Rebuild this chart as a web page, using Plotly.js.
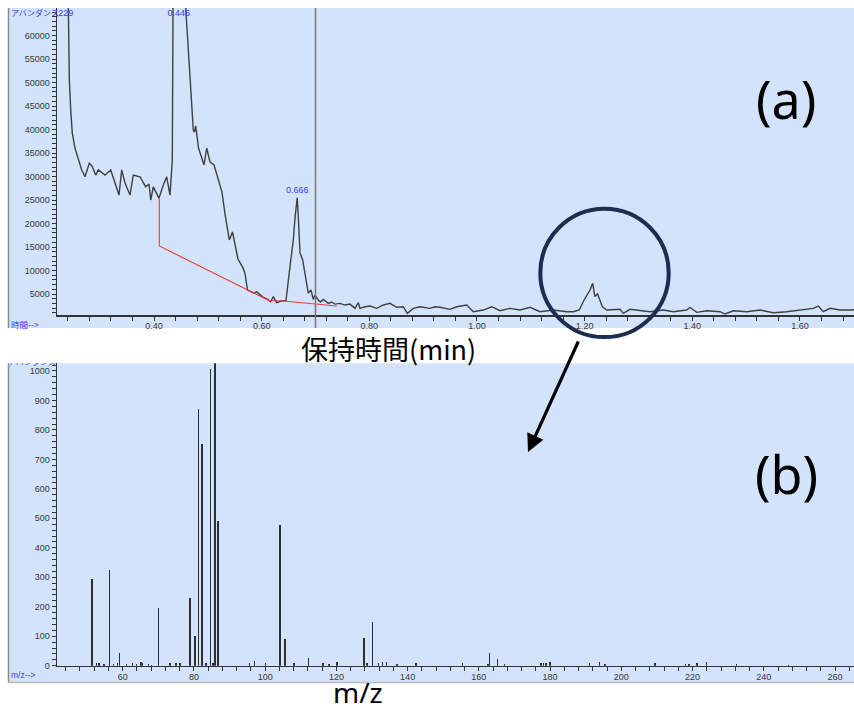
<!DOCTYPE html>
<html>
<head>
<meta charset="utf-8">
<script src="https://cdn.plot.ly/plotly-3.0.1.min.js"></script>
<style>
  html, body { margin: 0; padding: 0; background: #ffffff; }
  #chart { width: 854px; height: 711px; }
</style>
</head>
<body>
<div id="chart"></div>
<script>
// ---- (a) total ion chromatogram: retention time (min) vs abundance ----
const rtMin = [
  0.2198, 0.2290, 0.2380, 0.2402, 0.2408, 0.2427, 0.2453, 0.2482, 0.2532, 0.2594,
  0.2657, 0.2718, 0.2798, 0.2848, 0.2917, 0.2965, 0.3090, 0.3196, 0.3276, 0.3350,
  0.3400, 0.3461, 0.3554, 0.3615, 0.3740, 0.3846, 0.3907, 0.3939, 0.3987, 0.4093,
  0.4173, 0.4236, 0.4297, 0.4340, 0.4355, 0.4460, 0.4590, 0.4594, 0.4619, 0.4656,
  0.4687, 0.4730, 0.4749, 0.4775, 0.4827, 0.4873, 0.4929, 0.4979, 0.5040, 0.5115,
  0.5180, 0.5263, 0.5319, 0.5399, 0.5458, 0.5505, 0.5560, 0.5653, 0.5690, 0.5737,
  0.5783, 0.5858, 0.5908, 0.5969, 0.6025, 0.6094, 0.6168, 0.6216, 0.6279, 0.6359,
  0.6452, 0.6526, 0.6588, 0.6619, 0.6660, 0.6684, 0.6712, 0.6762, 0.6824, 0.6866,
  0.6917, 0.6959, 0.6991, 0.7052, 0.7093, 0.7145, 0.7238, 0.7301, 0.7362, 0.7455,
  0.7548, 0.7641, 0.7734, 0.7795, 0.7827, 0.7920, 0.8013, 0.8137, 0.8260, 0.8384,
  0.8509, 0.8631, 0.8706, 0.8817, 0.8941, 0.9127, 0.9220, 0.9313, 0.9499, 0.9623,
  0.9809, 0.9932, 1.0117, 1.0273, 1.0428, 1.0613, 1.0799, 1.0985, 1.1171, 1.1418,
  1.1667, 1.1789, 1.1900, 1.1990, 1.2100, 1.2150, 1.2190, 1.2240, 1.2330, 1.2410,
  1.2657, 1.2718, 1.2843, 1.2967, 1.3214, 1.3461, 1.3647, 1.3896, 1.3957, 1.4082,
  1.4268, 1.4515, 1.4608, 1.4762, 1.5011, 1.5258, 1.5505, 1.5754, 1.6001, 1.6248,
  1.6341, 1.6434, 1.6558, 1.6744, 1.6930, 1.7050
];
const abundance = [
  118000, 160000, 90000, 70000, 55400, 50500, 44150, 39250, 36050, 33500,
  31400, 29950, 32800, 32250, 30300, 31400, 30300, 31400, 28550, 26050,
  31400, 28600, 26050, 30300, 29950, 27800, 28400, 25000, 27800, 25400,
  28200, 29950, 26050, 33500, 70000, 200000, 70000, 64800, 60500, 53300,
  46300, 39900, 39450, 40750, 36050, 34600, 32450, 36050, 33100, 32450,
  29700, 26700, 22050, 16500, 18200, 15850, 12450, 10550, 9450, 5850,
  5650, 5200, 5450, 4800, 4350, 3950, 3350, 4450, 3150, 3500,
  3600, 10800, 16500, 21150, 25500, 20750, 13750, 12250, 8000, 5200,
  5850, 3850, 4800, 3700, 3300, 3850, 3000, 3300, 2850, 3000,
  2650, 2850, 1950, 3150, 1950, 2290, 2440, 1950, 2660, 3020,
  2170, 2290, 890, 1950, 2290, 1950, 2290, 2170, 1740, 2290,
  2660, 1230, 1590, 2290, 1440, 1950, 1590, 2170, 1230, 1590,
  1230, 1230, 1600, 3720, 5840, 7260, 4500, 5000, 2290, 1590,
  1740, 890, 1740, 1590, 1230, 1590, 1230, 1590, 2170, 1100,
  1440, 1230, 740, 1440, 1230, 1590, 1020, 1230, 1590, 1950,
  2440, 1230, 1950, 1590, 1600, 1700
];
const abundanceTicks = [5000, 10000, 15000, 20000, 25000, 30000, 35000, 40000, 45000, 50000, 55000, 60000];
const timeTicks = [0.40, 0.60, 0.80, 1.00, 1.20, 1.40, 1.60];

// integration baseline (red)
const baseTimes  = [0.4098, 0.4098, 0.6136, 0.6452, 0.7394];
const baseValues = [25430, 15220, 3620, 3450, 2450];

// labelled peak apexes
const peakTimes  = [0.229, 0.446, 0.666];
const peakApex   = [160000, 200000, 25500];

// cursor position (min)
const cursorTime = 0.70;

// ---- (b) mass spectrum: m/z vs abundance ----
const msMz = [
  51.4, 52.7, 53.3, 54.8, 56.3, 57.4, 58.5, 59.1, 61.1, 62.8,
  63.9, 65.1, 65.5, 67.2, 68.1, 70.1, 73.3, 75.0, 76.1, 78.9,
  80.3, 81.3, 82.2, 83.4, 84.6, 85.3, 85.9, 86.7, 95.6, 97.0,
  100.1, 104.2, 105.6, 108.1, 112.1, 116.2, 117.9, 120.2, 127.8, 128.6,
  130.1, 131.8, 133.0, 134.1, 137.0, 142.3, 155.4, 162.5, 163.0, 165.3,
  167.2, 177.4, 178.2, 178.9, 180.0, 191.0, 193.8, 195.4, 209.5, 218.0,
  219.0, 221.3, 223.9, 232.4, 246.9
];
const msAbund = [
  295, 8, 10, 5, 325, 6, 8, 42, 6, 10,
  6, 12, 10, 5, 4, 197, 10, 10, 8, 231,
  102, 872, 751, 10, 1006, 10, 1040, 490, 10, 15,
  10, 476, 91, 10, 25, 10, 6, 11, 93, 8,
  148, 10, 12, 12, 5, 10, 10, 7, 42, 22,
  5, 8, 8, 8, 13, 10, 12, 5, 8, 5,
  5, 10, 12, 5, 4
];
const msAbundTicks = [0, 100, 200, 300, 400, 500, 600, 700, 800, 900, 1000];
const mzTicks = [60, 80, 100, 120, 140, 160, 180, 200, 220, 240, 260];

const abundanceLabel = 'アバンダンス';
const timeTitle = '保持時間(min)';
const mzTitle = 'm/z';

// ---- page geometry helpers (pixel -> paper fraction) ----
const W = 854, H = 711;
const px = v => v / W;
const py = v => 1 - v / H;

const panelBg = '#d3e3fb';
const axisCol = '#333333';
const tickFont = { family: 'Arial, Liberation Sans, sans-serif', size: 9, color: '#383838' };
const blue = '#3b3bff';

const baseAxis = {
  showgrid: false, zeroline: false, showline: true,
  linecolor: axisCol, linewidth: 1.5,
  ticks: 'outside', ticklen: 4, tickwidth: 1, tickcolor: axisCol,
  tickfont: tickFont, fixedrange: true, tickmode: 'array'
};

const traces = [
  {
    x: rtMin, y: abundance, type: 'scatter', mode: 'lines',
    xaxis: 'x', yaxis: 'y',
    line: { color: '#404040', width: 1.4 }, hoverinfo: 'skip'
  },
  {
    x: baseTimes, y: baseValues, type: 'scatter', mode: 'lines',
    xaxis: 'x', yaxis: 'y',
    line: { color: '#f23a3a', width: 1.1 }, hoverinfo: 'skip'
  },
  {
    x: peakTimes,
    y: peakApex.map(v => Math.min(v + 1450, 64700)),
    text: peakTimes.map(t => t.toFixed(3)),
    type: 'scatter', mode: 'text', textposition: 'middle center',
    cliponaxis: true, xaxis: 'x', yaxis: 'y',
    textfont: { family: 'Arial, Liberation Sans, sans-serif', size: 9, color: blue },
    hoverinfo: 'skip'
  },
  {
    x: msMz, y: msAbund, type: 'bar', width: 0.42,
    xaxis: 'x2', yaxis: 'y2',
    marker: { color: '#2e2e2e', line: { width: 0 } }, hoverinfo: 'skip'
  },
  {
    // axis caption of the spectrum, partly hidden under the panel edge
    x: [0.0], y: [1.12], text: [abundanceLabel],
    type: 'scatter', mode: 'text', textposition: 'middle right',
    cliponaxis: true, xaxis: 'x3', yaxis: 'y3',
    textfont: { family: 'Noto Sans CJK JP', size: 8, color: blue },
    hoverinfo: 'skip'
  }
];

const layout = {
  width: W, height: H,
  margin: { l: 0, r: 0, t: 0, b: 0, pad: 0 },
  paper_bgcolor: '#ffffff',
  plot_bgcolor: 'rgba(0,0,0,0)',
  showlegend: false,
  hovermode: false,
  bargap: 0,
  xaxis: Object.assign({}, baseAxis, {
    domain: [px(57), 1], range: [0.2198, 1.7004], anchor: 'y',
    tickvals: timeTicks, ticktext: timeTicks.map(v => v.toFixed(2)),
    ticklabelstandoff: -2,
    minor: { tickmode: 'linear', tick0: 0, dtick: 0.04, ticks: 'outside', ticklen: 4, tickcolor: axisCol }
  }),
  yaxis: Object.assign({}, baseAxis, {
    domain: [py(315), py(8)], range: [532, 65860], anchor: 'x',
    tickvals: abundanceTicks, ticktext: abundanceTicks.map(String),
    minor: { tickmode: 'linear', tick0: 0, dtick: 1000, ticks: 'outside', ticklen: 4, tickcolor: axisCol }
  }),
  xaxis2: Object.assign({}, baseAxis, {
    domain: [px(57), 1], range: [41.55, 265.33], anchor: 'y2',
    tickvals: mzTicks, ticktext: mzTicks.map(String),
    ticklabelstandoff: -2,
    minor: { tickmode: 'linear', tick0: 0, dtick: 4, ticks: 'outside', ticklen: 4, tickcolor: axisCol }
  }),
  yaxis2: Object.assign({}, baseAxis, {
    domain: [py(665.7), py(363.3)], range: [0, 1026], anchor: 'x2',
    tickvals: msAbundTicks, ticktext: msAbundTicks.map(String),
    minor: { tickmode: 'linear', tick0: 0, dtick: 20, ticks: 'outside', ticklen: 4, tickcolor: axisCol }
  }),
  xaxis3: { domain: [px(8), px(57)], range: [0, 1], visible: false, anchor: 'y3', fixedrange: true },
  yaxis3: { domain: [py(370), py(363.3)], range: [0, 1], visible: false, anchor: 'x3', fixedrange: true },
  shapes: [
    // panel backgrounds
    { type: 'rect', xref: 'paper', yref: 'paper', layer: 'below',
      x0: px(8), x1: 1, y0: py(328), y1: py(8), fillcolor: panelBg, line: { width: 0 } },
    { type: 'rect', xref: 'paper', yref: 'paper', layer: 'below',
      x0: px(8), x1: 1, y0: py(682), y1: py(363.3), fillcolor: panelBg, line: { width: 0 } },
    // panel left edges
    { type: 'line', xref: 'paper', yref: 'paper', x0: px(8.5), x1: px(8.5), y0: py(328), y1: py(8),
      line: { color: '#8a8a8a', width: 1.5 } },
    { type: 'line', xref: 'paper', yref: 'paper', x0: px(8.5), x1: px(8.5), y0: py(682), y1: py(363.3),
      line: { color: '#8a8a8a', width: 1.5 } },
    { type: 'line', xref: 'paper', yref: 'paper', x0: px(8), x1: 1, y0: py(682.5), y1: py(682.5),
      line: { color: '#bdbdbd', width: 1.5 } },
    // retention-time cursor
    { type: 'line', xref: 'x', yref: 'paper', x0: cursorTime, x1: cursorTime, y0: py(328), y1: py(8),
      line: { color: '#777777', width: 1.5 } },
    // highlight ring round the small peak
    { type: 'circle', xref: 'paper', yref: 'paper',
      x0: px(604.5 - 64.2), x1: px(604.5 + 64.2), y0: py(272.9 + 64.2), y1: py(272.9 - 64.2),
      line: { color: '#1c2d4f', width: 4 }, fillcolor: 'rgba(0,0,0,0)' }
  ],
  annotations: [
    { xref: 'paper', yref: 'paper', x: px(8.5), y: py(13), xanchor: 'left', yanchor: 'middle',
      text: abundanceLabel, showarrow: false,
      font: { family: 'Noto Sans CJK JP', size: 8, color: blue } },
    { xref: 'paper', yref: 'paper', x: px(9), y: py(324), xanchor: 'left', yanchor: 'middle',
      text: '時間-->', showarrow: false,
      font: { family: 'Noto Sans CJK JP', size: 8.5, color: blue } },
    { xref: 'paper', yref: 'paper', x: px(9), y: py(675), xanchor: 'left', yanchor: 'middle',
      text: 'm/z-->', showarrow: false,
      font: { family: 'Arial, Liberation Sans, sans-serif', size: 8.5, color: blue } },
    { xref: 'paper', yref: 'paper', x: px(388), y: py(348), xanchor: 'center', yanchor: 'middle',
      text: timeTitle, showarrow: false,
      font: { family: 'Noto Sans CJK JP', size: 27, color: '#000000' } },
    { xref: 'paper', yref: 'paper', x: px(358), y: py(692), xanchor: 'center', yanchor: 'middle',
      text: mzTitle, showarrow: false,
      font: { family: 'Noto Sans, Open Sans, sans-serif', size: 28, color: '#000000' } },
    { xref: 'paper', yref: 'paper', x: px(786), y: py(98), xanchor: 'center', yanchor: 'middle',
      text: '(a)', showarrow: false,
      font: { family: 'Noto Sans, Open Sans, sans-serif', size: 52, color: '#000000' } },
    { xref: 'paper', yref: 'paper', x: px(786), y: py(473), xanchor: 'center', yanchor: 'middle',
      text: '(b)', showarrow: false,
      font: { family: 'Noto Sans, Open Sans, sans-serif', size: 52, color: '#000000' } },
    // pointer from the ringed peak down to its spectrum
    { xref: 'paper', yref: 'paper', x: px(528), y: py(452), text: '',
      showarrow: true, arrowhead: 2, arrowsize: 1.1, arrowwidth: 3.2, arrowcolor: '#000000',
      ax: 51, ay: -112, standoff: 0, startstandoff: 0 }
  ]
};

Plotly.newPlot('chart', traces, layout, { staticPlot: true, displayModeBar: false });
</script>
</body>
</html>
